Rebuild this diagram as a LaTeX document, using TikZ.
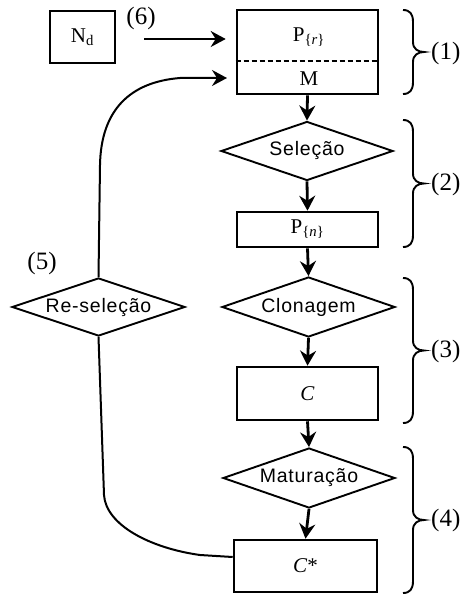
\documentclass[tikz,border=0pt]{standalone}
\usepackage{fontspec}
\setmainfont{Liberation Serif}
\newfontfamily\dsans[LetterSpace=4]{Liberation Sans}
\usetikzlibrary{shapes.geometric,arrows.meta}

% curly brace between two heights, tip pointing right
\newcommand\gbrace[2]{%
  \draw[bracestyle] (403,#1) .. controls (410,#1) and (413,{#1+4}) .. (413,{#1+12})
    -- (413,{(#1+#2)/2-10}) .. controls (413,{(#1+#2)/2-3}) and (418,{(#1+#2)/2}) .. (424,{(#1+#2)/2})
    .. controls (418,{(#1+#2)/2}) and (413,{(#1+#2)/2+3}) .. (413,{(#1+#2)/2+10})
    -- (413,{#2-12}) .. controls (413,{#2-4}) and (410,#2) .. (403,#2);}

\begin{document}
\begin{tikzpicture}[x=1pt,y=-1pt,
  font=\fontsize{21}{24}\selectfont,
  box/.style={draw, line width=2.6pt, minimum width=141pt, inner sep=0pt},
  dia/.style={draw, diamond, line width=1.9pt, inner sep=0pt, aspect=2.9,
    font=\dsans\fontsize{19.5}{22}\selectfont},
  arr/.style={line width=2.8pt, -{Stealth[length=15pt,width=16pt,inset=5pt]}},
  carr/.style={line width=2pt, -{Stealth[length=15pt,width=16pt,inset=5pt]}},
  cline/.style={line width=2pt},
  lbl/.style={font=\fontsize{25}{28}\selectfont, inner sep=0pt},
  bracestyle/.style={line width=1.9pt}
]
\useasboundingbox (0,0) rectangle (464,596);

% input box
\node[box, minimum width=65pt, minimum height=52pt] (nd) at (82.5,37) {N\textsubscript{d}};
\node[lbl] (l6) at (141,18) {(6)};

% population box split into P{r} and M
\node[box, minimum height=84pt] (top) at (307.5,52) {};
\node (pr) at (309,37) {P\textsubscript{\{\textit{r}\}}};
\node (mm) at (309,79) {M};
\draw[line width=1.4pt, dash pattern=on 5pt off 3pt] (top.west |- 0,61) -- (top.east |- 0,61);

% main flow
\node[dia, minimum width=172pt, minimum height=59pt] (sel) at (307,151) {Seleção};
\node[box, minimum height=35pt] (pn) at (307.5,229.5) {P\textsubscript{\{\textit{n}\}}};
\node[dia, minimum width=173pt, minimum height=60pt] (clo) at (308.5,307) {Clonagem};
\node[box, minimum height=53pt] (cb) at (307.5,393.5) {\textit{C}};
\node[dia, minimum width=172pt, minimum height=60pt] (mat) at (309,478) {Maturação};
\node[box, minimum width=143pt, minimum height=52pt] (cs) at (305.5,566) {\textit{C}*};

% re-selection loop
\node[dia, minimum width=173pt, minimum height=58pt] (rs) at (98.5,307) {Re-seleção};
\node[lbl] (l5) at (42,263) {(5)};

\draw[arr] (top.south) -- (sel.north);
\draw[arr] (sel.south) -- (pn.north);
\draw[arr] (pn.south) -- (clo.north);
\draw[arr] (clo.south) -- (cb.north);
\draw[arr] (cb.south) -- (mat.north);
\draw[arr] (mat.south) -- (cs.north);

\draw[arr, line width=2.4pt, shorten <=28pt, shorten >=10pt] (nd.east |- 0,39) -- (top.west |- 0,39);

\coordinate (min) at (227,78);
\draw[carr] (rs.north) -- (100,165) .. controls (101,110) and (130,82) .. (180,78) -- (min);

\coordinate (csw) at (cs.west |- 0,557);
\draw[cline] (rs.south) -- (104,495) .. controls (106,525) and (150,548) .. (200,555) -- (csw);

% stage braces and labels
\gbrace{10}{94}
\gbrace{120}{247}
\gbrace{278}{423}
\gbrace{447}{593}
\node[lbl, anchor=west] (l1) at (431,53) {(1)};
\node[lbl, anchor=west] (l2) at (431,184) {(2)};
\node[lbl, anchor=west] (l3) at (431,351) {(3)};
\node[lbl, anchor=west] (l4) at (431,520) {(4)};
\end{tikzpicture}
\end{document}
